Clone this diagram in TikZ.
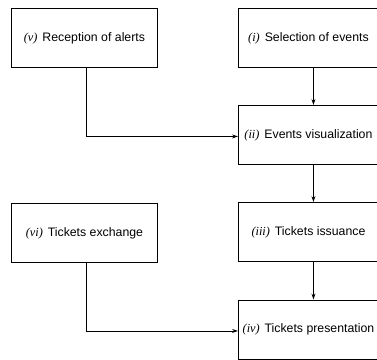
\documentclass[tikz,border=0pt]{standalone}
\usepackage{fontspec}
\setmainfont{Liberation Sans}
\newfontfamily\numfont{Liberation Serif}
\usetikzlibrary{arrows.meta}
\tikzset{
  x=1pt, y=1pt,
  box/.style={draw=black, line width=0.9pt, minimum width=#1, minimum height=59pt, inner sep=0pt, font=\fontsize{12.3}{14}\selectfont, anchor=north west},
  box/.default=146pt,
  conn/.style={draw=black, line width=0.8pt},
  arr/.style={conn, -{Stealth[length=6pt, width=4pt]}}
}
\newcommand{\rn}[1]{{\numfont\itshape(#1)}\hspace{1.5pt}}
\begin{document}
\begin{tikzpicture}
\useasboundingbox (0,0) rectangle (377,-359);
\begin{scope}
\clip (0,0) rectangle (377,-359);
\node[box] (v) at (11,-8) {\rn{v} Reception of alerts};
\node[box=140pt] (i) at (238,-8) {\rn{i} Selection of events};
\node[box=140pt] (ii) at (238,-105) {\rn{ii} Events visualization};
\node[box] (vi) at (11,-203) {\rn{vi} Tickets exchange};
\node[box=140pt] (iii) at (238,-202) {\rn{iii} Tickets issuance};
\node[box=140pt] (iv) at (238,-299.5) {\rn{iv} Tickets presentation};
\end{scope}
\draw[arr] ([xshift=5pt]i.south) -- ([xshift=5pt]ii.north);
\draw[arr] ([xshift=5pt]ii.south) -- ([xshift=5pt]iii.north);
\draw[arr] ([xshift=5pt]iii.south) -- ([xshift=5pt]iv.north);
\draw[arr] ([xshift=2pt]v.south) |- ([yshift=-1.5pt]ii.west);
\draw[arr] ([xshift=2pt]vi.south) |- ([yshift=-1.5pt]iv.west);
\end{tikzpicture}
\end{document}
